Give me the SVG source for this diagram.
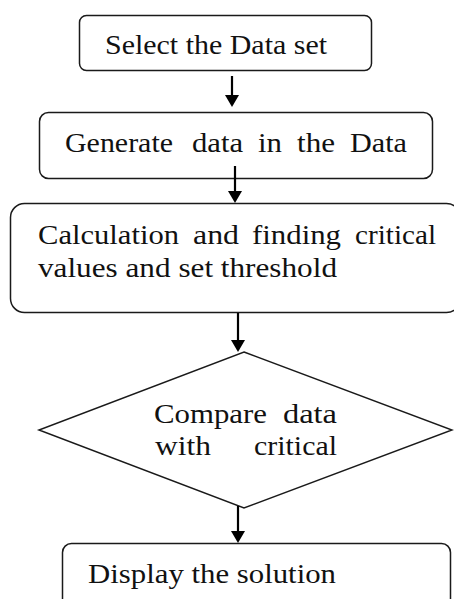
<svg xmlns="http://www.w3.org/2000/svg" width="454" height="599" viewBox="0 0 454 599">
<style>
.box{fill:#fff;stroke:#1a1a1a;stroke-width:1.5}
.t{font-family:"Liberation Serif",serif;font-size:28px;fill:#111}
.ln{stroke:#000;stroke-width:2.2;fill:none}
.hd{fill:#000}
</style>
<rect width="454" height="599" fill="#fff"/>
<g id="n1"><rect class="box" x="79.5" y="15.5" width="292" height="55" rx="7"/>
<text class="t" x="105" y="54" textLength="222" lengthAdjust="spacingAndGlyphs">Select the Data set</text></g>
<g id="n2"><rect class="box" x="39.5" y="112.5" width="393" height="66" rx="9"/>
<text class="t" x="65" y="152" textLength="108" lengthAdjust="spacingAndGlyphs">Generate</text>
<text class="t" x="192" y="152" textLength="51" lengthAdjust="spacingAndGlyphs">data</text>
<text class="t" x="258" y="152" textLength="24" lengthAdjust="spacingAndGlyphs">in</text>
<text class="t" x="297" y="152" textLength="38" lengthAdjust="spacingAndGlyphs">the</text>
<text class="t" x="350" y="152" textLength="57" lengthAdjust="spacingAndGlyphs">Data</text></g>
<g id="n3"><rect class="box" x="10.5" y="203.5" width="450" height="109" rx="14"/>
<text class="t" x="38" y="244" textLength="141" lengthAdjust="spacingAndGlyphs">Calculation</text>
<text class="t" x="193" y="244" textLength="46" lengthAdjust="spacingAndGlyphs">and</text>
<text class="t" x="252" y="244" textLength="89" lengthAdjust="spacingAndGlyphs">finding</text>
<text class="t" x="355" y="244" textLength="81" lengthAdjust="spacingAndGlyphs">critical</text>
<text class="t" x="38" y="277" textLength="299" lengthAdjust="spacingAndGlyphs">values and set threshold</text></g>
<g id="n4"><polygon class="box" points="244,352 452,430 244,508 39,430"/>
<text class="t" x="154" y="423" textLength="113" lengthAdjust="spacingAndGlyphs">Compare</text>
<text class="t" x="283" y="423" textLength="54" lengthAdjust="spacingAndGlyphs">data</text>
<text class="t" x="155" y="455" textLength="56" lengthAdjust="spacingAndGlyphs">with</text>
<text class="t" x="254" y="455" textLength="83" lengthAdjust="spacingAndGlyphs">critical</text></g>
<g id="n5"><rect class="box" x="62.5" y="543.5" width="388" height="80" rx="9"/>
<text class="t" x="88" y="583" textLength="248" lengthAdjust="spacingAndGlyphs">Display the solution</text></g>
<g id="connectors">
<line class="ln" x1="232" y1="76" x2="232" y2="96"/><polygon class="hd" points="225,95 239,95 232,107"/>
<line class="ln" x1="235" y1="166" x2="235" y2="192"/><polygon class="hd" points="228,191 242,191 235,203"/>
<line class="ln" x1="238" y1="313" x2="238" y2="341"/><polygon class="hd" points="231,340 245,340 238,352"/>
<line class="ln" x1="238" y1="506" x2="238" y2="532"/><polygon class="hd" points="231,531 245,531 238,543"/>
</g>
</svg>
